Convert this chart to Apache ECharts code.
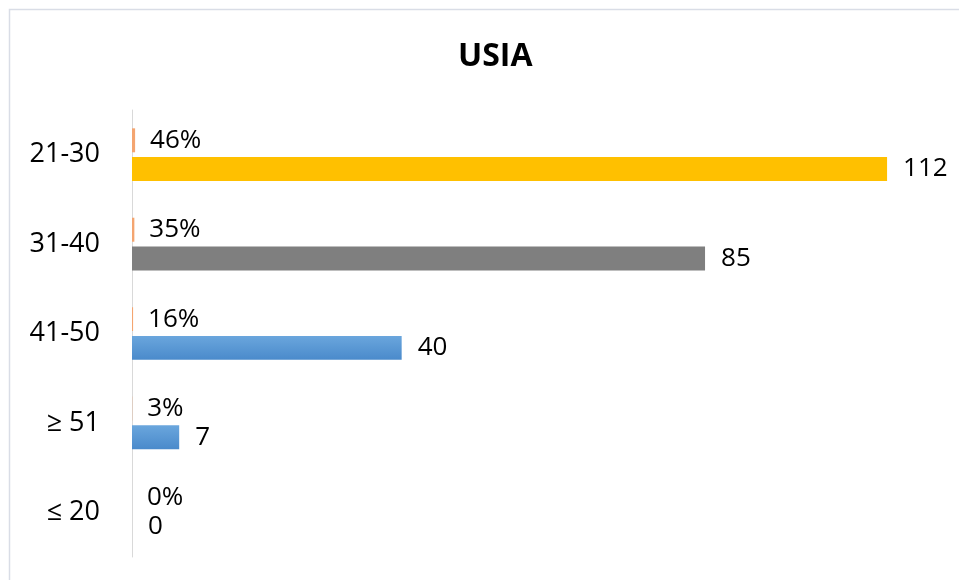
<!DOCTYPE html>
<html>
<head>
<meta charset="utf-8">
<script src="https://cdn.jsdelivr.net/npm/echarts@6/dist/echarts.min.js"></script>
<style>html,body{margin:0;padding:0;background:#fff;}#c{width:959px;height:580px;}</style>
</head>
<body>
<div id="c"></div>
<script>
const categories = ['≤ 20', '≥ 51', '41-50', '31-40', '21-30'];
const counts = [0, 7, 40, 85, 112];
const percents = [0, 0.03, 0.16, 0.35, 0.46];

const FONT = '"Open Sans", "DejaVu Sans", sans-serif';
const chart = echarts.init(document.getElementById('c'));
const blue = new echarts.graphic.LinearGradient(0, 0, 0, 1, [
  { offset: 0, color: '#6aa6dd' },
  { offset: 1, color: '#4a8acb' }
]);
function countColor(i) {
  const name = categories[i];
  if (name === '21-30') return '#FFC000';
  if (name === '31-40') return '#7F7F7F';
  return blue;
}
chart.setOption({
  animation: false,
  backgroundColor: '#fff',
  title: {
    text: 'USIA',
    left: 453,
    top: 36,
    textStyle: { fontFamily: FONT, fontSize: 32, fontWeight: 'bold', color: '#000' }
  },
  graphic: [{
    type: 'rect',
    shape: { x: 9.5, y: 9.5, width: 1000, height: 1000 },
    style: { fill: 'none', stroke: '#d9dde6', lineWidth: 1.5 },
    silent: true
  }],
  grid: { left: 132, right: 18, top: 110, bottom: 23 },
  xAxis: {
    type: 'value', min: 0, max: 120,
    show: false
  },
  yAxis: {
    type: 'category',
    data: categories,
    axisLine: { show: true, lineStyle: { color: '#d9d9d9', width: 1 } },
    axisTick: { show: false },
    axisLabel: { fontFamily: FONT, fontSize: 27, color: '#000', margin: 32 }
  },
  series: [
    {
      name: 'Persen',
      type: 'bar',
      data: percents,
      barGap: '20%',
      barCategoryGap: '41%',
      itemStyle: { color: '#F4A570' },
      label: {
        show: true, position: 'right', distance: 15,
        fontFamily: FONT, fontSize: 26, color: '#000',
        formatter: p => Math.round(p.value * 100) + '%'
      }
    },
    {
      name: 'Jumlah',
      type: 'bar',
      data: counts,
      barGap: '20%',
      barCategoryGap: '41%',
      itemStyle: { color: p => countColor(p.dataIndex) },
      label: {
        show: true, position: 'right', distance: 16,
        fontFamily: FONT, fontSize: 26, color: '#000'
      }
    }
  ]
});
</script>
</body>
</html>
